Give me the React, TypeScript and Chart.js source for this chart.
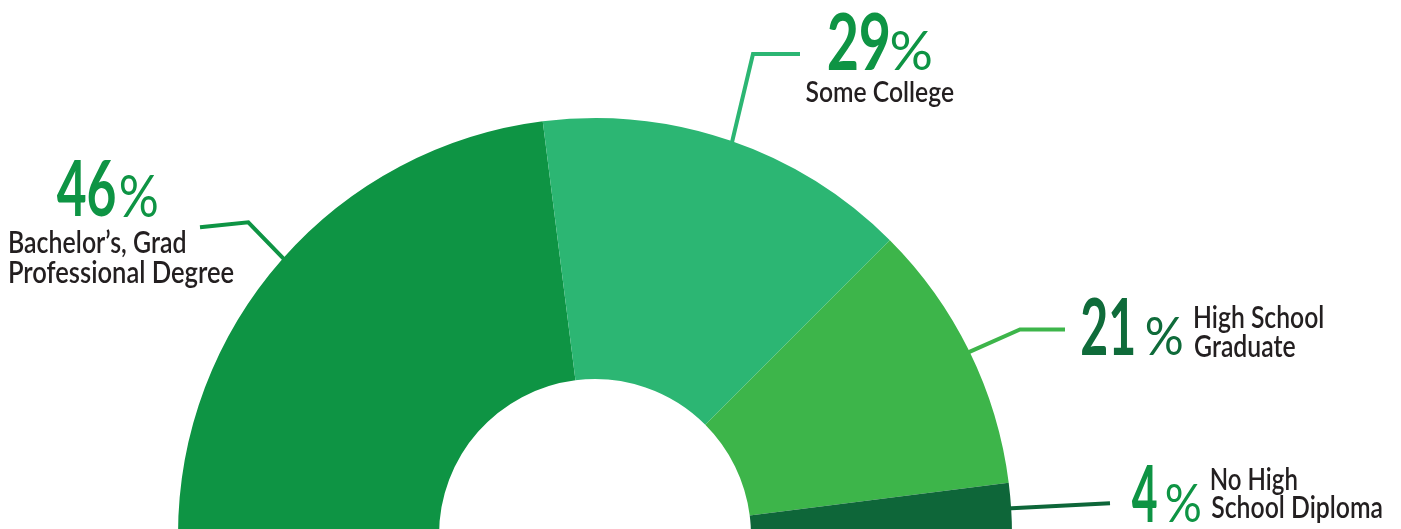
import React, { useEffect, useRef } from "react";
import { Chart, registerables } from "chart.js";

Chart.register(...registerables);

// ---- Data ----
const categories = [
  "Bachelor’s, Grad Professional Degree",
  "Some College",
  "High School Graduate",
  "No High School Diploma",
];
const values = [46, 29, 21, 4];
const labelLines = [
  ["Bachelor’s, Grad", "Professional Degree"],
  ["Some College"],
  ["High School", "Graduate"],
  ["No High", "School Diploma"],
];

// ---- Styles ----
const sliceColors = ["#0e9444", "#2cb673", "#3db54a", "#0e6639"];
const numberColors = ["#0e9444", "#0e9444", "#0f6b3a", "#0e9444"];
const textColor = "#231f20";
const FONT = "Lato, 'Noto Sans', 'DejaVu Sans', sans-serif";

type Box = { x: number; y: number; w: number; h: number };
type Layout = {
  num: Box;
  pct: Box;
  lines: { x: number; y: number; w: number }[];
  capH: number;
  leader: number[][];
};

const labelLayout: Layout[] = [
  {
    num: { x: 56.7, y: 216.3, w: 58.3, h: 55.5 },
    pct: { x: 120.7, y: 216.5, w: 36, h: 43 },
    lines: [
      { x: 10, y: 252.7, w: 175 },
      { x: 10, y: 283.3, w: 223.3 },
    ],
    capH: 22,
    leader: [[200, 227.3], [248.3, 222.3], [284, 259], [305, 282]],
  },
  {
    num: { x: 828.3, y: 70, w: 60, h: 56.7 },
    pct: { x: 891.7, y: 70, w: 39, h: 40 },
    lines: [{ x: 806, y: 102.3, w: 147.3 }],
    capH: 21,
    leader: [[800, 54], [753, 54], [733, 138], [728, 160]],
  },
  {
    num: { x: 1081.7, y: 355, w: 51.6, h: 56.7 },
    pct: { x: 1146.7, y: 355, w: 35, h: 38 },
    lines: [
      { x: 1195, y: 328.3, w: 127.7 },
      { x: 1195, y: 357.3, w: 100 },
    ],
    capH: 22,
    leader: [[1065, 329.5], [1020, 329.5], [970, 351.7], [945, 363]],
  },
  {
    num: { x: 1131.7, y: 521.7, w: 25, h: 56.7 },
    pct: { x: 1166.7, y: 521.7, w: 33.3, h: 38.4 },
    lines: [
      { x: 1211.7, y: 490, w: 85 },
      { x: 1211.7, y: 518.3, w: 170 },
    ],
    capH: 22,
    leader: [[1110, 503.3], [1011.7, 508.3], [990, 509.5]],
  },
];

function drawFitted(
  ctx: CanvasRenderingContext2D,
  text: string,
  x: number,
  baseline: number,
  targetW: number,
  targetH: number,
  weight: string,
  color: string,
  useCap: boolean
) {
  ctx.save();
  ctx.font = `${weight} 100px ${FONT}`;
  ctx.textAlign = "left";
  ctx.textBaseline = "alphabetic";
  const m = ctx.measureText(text);
  const ref = useCap ? ctx.measureText("H") : m;
  const inkW = m.actualBoundingBoxLeft + m.actualBoundingBoxRight;
  const asc = ref.actualBoundingBoxAscent || 72;
  const sx = targetW / (inkW || 1);
  const sy = targetH / asc;
  ctx.translate(x + m.actualBoundingBoxLeft * sx, baseline);
  ctx.scale(sx, sy);
  ctx.fillStyle = color;
  ctx.fillText(text, 0, 0);
  ctx.restore();
}

const leaderPlugin = {
  id: "leaders",
  beforeDatasetsDraw(chart: any) {
    const ctx: CanvasRenderingContext2D = chart.ctx;
    ctx.save();
    ctx.lineWidth = 4;
    ctx.lineJoin = "miter";
    ctx.lineCap = "butt";
    labelLayout.forEach((l, i) => {
      ctx.strokeStyle = sliceColors[i];
      ctx.beginPath();
      l.leader.forEach((p, j) => (j === 0 ? ctx.moveTo(p[0], p[1]) : ctx.lineTo(p[0], p[1])));
      ctx.stroke();
    });
    ctx.restore();
  },
  afterDraw(chart: any) {
    const ctx: CanvasRenderingContext2D = chart.ctx;
    labelLayout.forEach((l, i) => {
      drawFitted(ctx, String(values[i]), l.num.x, l.num.y, l.num.w, l.num.h, "bold", numberColors[i], false);
      drawFitted(ctx, "%", l.pct.x, l.pct.y, l.pct.w, l.pct.h, "normal", numberColors[i], false);
      labelLines[i].forEach((t, j) => {
        const ln = l.lines[j];
        drawFitted(ctx, t, ln.x, ln.y, ln.w, l.capH, "600", textColor, true);
      });
    });
  },
};

export default function App() {
  const ref = useRef<HTMLCanvasElement | null>(null);
  useEffect(() => {
    if (!ref.current) return;
    const chart = new Chart(ref.current, {
      type: "doughnut",
      data: {
        labels: categories,
        datasets: [
          {
            data: values,
            backgroundColor: sliceColors,
            borderWidth: 0,
            hoverOffset: 0,
            offset: 0,
          } as any,
        ],
      },
      options: {
        responsive: false,
        animation: false,
        devicePixelRatio: 1,
        rotation: -90,
        circumference: 180,
        cutout: "37.4%",
        layout: { padding: { left: 0, right: 211, top: 118, bottom: 0 } },
        plugins: { legend: { display: false }, tooltip: { enabled: false } },
        events: [],
      } as any,
      plugins: [leaderPlugin as any],
    });
    return () => chart.destroy();
  }, []);
  return (
    <div
      style={{
        position: "absolute",
        left: 0,
        top: 0,
        width: 1401,
        height: 529,
        overflow: "hidden",
        background: "#ffffff",
      }}
    >
      <canvas
        ref={ref}
        width={1401}
        height={535}
        style={{ position: "absolute", left: 0, top: 0, width: 1401, height: 535 }}
      />
    </div>
  );
}
